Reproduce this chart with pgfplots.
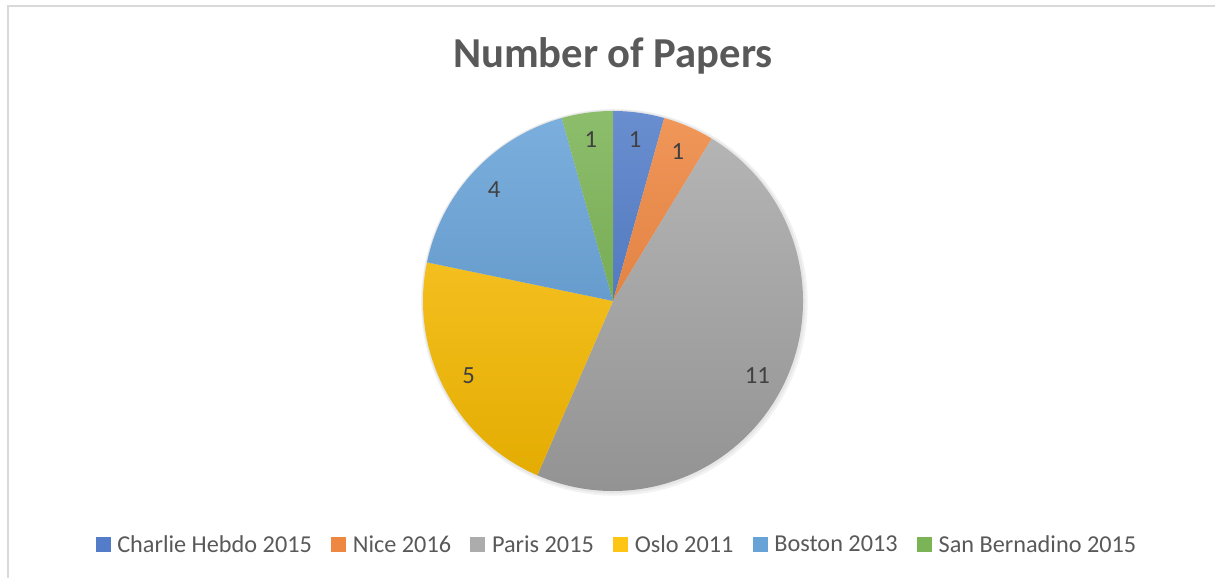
\documentclass[border=0pt]{standalone}
\usepackage{pgfplots}
\usepackage{pgfplotstable}
\pgfplotsset{compat=1.18}
\usepackage{fontspec}
\setmainfont{Carlito}
\definecolor{c1}{HTML}{4472C4}
\definecolor{c2}{HTML}{ED7D31}
\definecolor{c3}{HTML}{A5A5A5}
\definecolor{c4}{HTML}{FFC000}
\definecolor{c5}{HTML}{5B9BD5}
\definecolor{c6}{HTML}{70AD47}
\definecolor{txt}{HTML}{595959}
\definecolor{lbl}{HTML}{404040}
\definecolor{frame}{HTML}{D9D9D9}
\pgfplotstableread[col sep=comma]{
name,value,col
Charlie Hebdo 2015,1,c1
Nice 2016,1,c2
Paris 2015,11,c3
Oslo 2011,5,c4
Boston 2013,4,c5
San Bernadino 2015,1,c6
}\piedata
\newcommand{\sq}[1]{\fill[#1!92!white] (0pt,-4.6pt) rectangle (10.5pt,5.9pt);}
\begin{document}
\begin{tikzpicture}
\begin{axis}[
  scale only axis, width=911.25pt, height=433.5pt,
  xmin=0, xmax=1215, ymin=0, ymax=578,
  axis lines=none, ticks=none, clip=false,
  legend columns=6,
  legend style={at={(axis cs:617,33)}, anchor=center, draw=none, fill=none,
    font=\fontsize{18.2}{21}\selectfont\color{txt},
    /tikz/every even column/.append style={column sep=13pt},
    /tikz/every odd column/.append style={column sep=3.8pt},
    nodes={inner sep=1.5pt}},
]
% frame
\draw[frame, line width=1.6pt] (axis cs:8,0) -- (axis cs:8,572) -- (axis cs:1215,572);
% title
\node[anchor=base, text=txt, font=\fontsize{32}{38}\selectfont\bfseries] at (axis cs:613,510) {Number of Papers};
% pie
\pgfplotsextra{%
  \fill[black, opacity=0.05] ([shift={(1pt,-1pt)}]axis cs:613,277) circle (145pt);
  \fill[black, opacity=0.05] ([shift={(0.5pt,-0.5pt)}]axis cs:613,277) circle (143.8pt);
  \pgfplotstablegetrowsof{\piedata}%
  \pgfmathtruncatemacro\nrows{\pgfplotsretval-1}%
  \gdef\total{0}%
  \pgfplotsforeachungrouped \i in {0,...,\nrows}{%
    \pgfplotstablegetelem{\i}{value}\of{\piedata}%
    \pgfmathsetmacro\tmp{\total+\pgfplotsretval}%
    \global\let\total\tmp}%
  \gdef\startang{90}%
  \pgfplotsforeachungrouped \i in {0,...,\nrows}{%
    \pgfplotstablegetelem{\i}{value}\of{\piedata}\let\val\pgfplotsretval
    \pgfplotstablegetelem{\i}{col}\of{\piedata}\let\col\pgfplotsretval
    \pgfmathsetmacro\endang{\startang-360*\val/\total}%
    \pgfmathsetmacro\midang{(\startang+\endang)/2}%
    \begin{scope}
      \clip (axis cs:613,277) -- ++(\startang:142.5pt) arc[start angle=\startang, end angle=\endang, radius=142.5pt] -- cycle;
      \shade[top color=\col!80!white, bottom color=\col!89!black] ([shift={(-143pt,-143pt)}]axis cs:613,277) rectangle ([shift={(143pt,143pt)}]axis cs:613,277);
    \end{scope}
    \pgfmathtruncatemacro\ival{\val}%
    \node[text=lbl, font=\fontsize{18.5}{21}\selectfont] at ([shift={(\midang:122pt)}]axis cs:613,277) {\ival};
    \global\let\startang\endang
  }%
}
\addlegendimage{legend image code/.code={\sq{c1}}}\addlegendentry{Charlie Hebdo 2015}
\addlegendimage{legend image code/.code={\sq{c2}}}\addlegendentry{Nice 2016}
\addlegendimage{legend image code/.code={\sq{c3}}}\addlegendentry{Paris 2015}
\addlegendimage{legend image code/.code={\sq{c4}}}\addlegendentry{Oslo 2011}
\addlegendimage{legend image code/.code={\sq{c5}}}\addlegendentry{Boston 2013}
\addlegendimage{legend image code/.code={\sq{c6}}}\addlegendentry{San Bernadino 2015}
\end{axis}
\pgfresetboundingbox
\useasboundingbox (current axis.south west) rectangle (current axis.north east);
\end{tikzpicture}
\end{document}
